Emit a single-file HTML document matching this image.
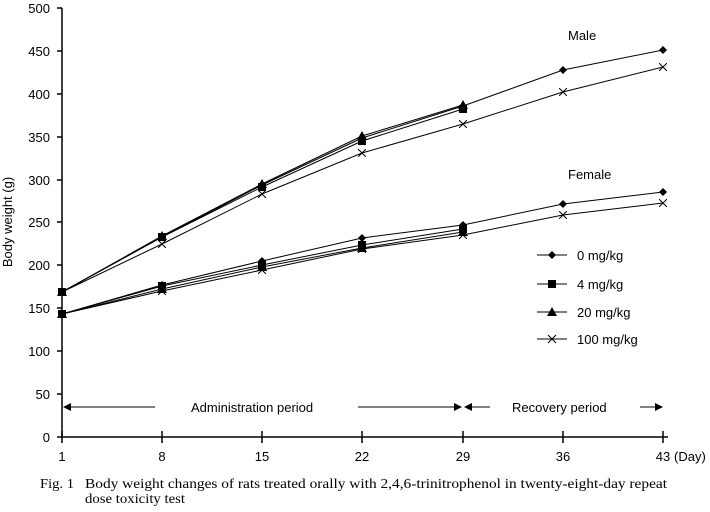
<!DOCTYPE html><html><head><style>body{margin:0;background:#fff}svg text{font-family:"Liberation Sans",sans-serif;font-size:13px;fill:#000}.c{font-family:"Liberation Serif",serif;font-size:13.5px}</style></head><body>
<svg width="710" height="507" xmlns="http://www.w3.org/2000/svg">
<defs>
<marker id="d" viewBox="-4 -4 8 8" markerWidth="8" markerHeight="8" markerUnits="userSpaceOnUse"><path d="M0-4L4 0 0 4-4 0Z"/></marker>
<marker id="s" viewBox="-4 -4 8 8" markerWidth="8" markerHeight="8" markerUnits="userSpaceOnUse"><rect x="-4" y="-4" width="8" height="8"/></marker>
<marker id="t" viewBox="-5 -5 10 10" markerWidth="10" markerHeight="10" markerUnits="userSpaceOnUse"><path d="M0-5L5 4-5 4Z"/></marker>
<marker id="x" viewBox="-4 -4 8 8" markerWidth="8" markerHeight="8" markerUnits="userSpaceOnUse"><path d="M-4-4L4 4M-4 4L4-4" stroke="#000" stroke-width="1"/></marker>
</defs>
<g stroke="#000" stroke-width="1.5" fill="none">
<line x1="62" y1="8" x2="62" y2="438"/><line x1="62" y1="437" x2="668" y2="437"/>
<path d="M57 8h5M57 51h5M57 94h5M57 137h5M57 180h5M57 222h5M57 265h5M57 308h5M57 351h5M57 394h5M57 437h5"/>
<path d="M62 431v12M162 431v12M262 431v12M362 431v12M463 431v12M563 431v12M663 431v12"/>
</g>
<g text-anchor="end"><text x="50" y="13">500</text><text x="50" y="56">450</text><text x="50" y="99">400</text><text x="50" y="142">350</text><text x="50" y="185">300</text><text x="50" y="227">250</text><text x="50" y="270">200</text><text x="50" y="313">150</text><text x="50" y="356">100</text><text x="50" y="399">50</text><text x="50" y="442">0</text></g>
<g text-anchor="middle"><text x="62" y="461">1</text><text x="162" y="461">8</text><text x="262" y="461">15</text><text x="362" y="461">22</text><text x="463" y="461">29</text><text x="563" y="461">36</text><text x="663" y="461">43</text></g>
<text x="674" y="461">(Day)</text>
<text transform="translate(12 222) rotate(-90)" text-anchor="middle">Body weight (g)</text>
<g fill="none" stroke="#000" stroke-width="1">
<polyline marker-start="url(#d)" marker-mid="url(#d)" marker-end="url(#d)" points="62,292 162,237 262,185 362,138 463,106 563,70 663,50"/>
<polyline marker-start="url(#s)" marker-mid="url(#s)" marker-end="url(#s)" points="62,292 162,237 262,187 362,141 463,109"/>
<polyline marker-start="url(#t)" marker-mid="url(#t)" marker-end="url(#t)" points="62,292 162,236 262,184 362,136 463,105"/>
<polyline marker-start="url(#x)" marker-mid="url(#x)" marker-end="url(#x)" points="62,292 162,244 262,194 362,153 463,124 563,92 663,67"/>
<polyline marker-start="url(#d)" marker-mid="url(#d)" marker-end="url(#d)" points="62,314 162,285 262,261 362,238 463,225 563,204 663,192"/>
<polyline marker-start="url(#s)" marker-mid="url(#s)" marker-end="url(#s)" points="62,314 162,286 262,265 362,245 463,229"/>
<polyline marker-start="url(#t)" marker-mid="url(#t)" marker-end="url(#t)" points="62,314 162,289 262,267 362,248 463,232"/>
<polyline marker-start="url(#x)" marker-mid="url(#x)" marker-end="url(#x)" points="62,314 162,291 262,270 362,249 463,235 563,215 663,203"/>
</g>
<g stroke="#000" stroke-width="1">
<line x1="537" y1="255" x2="567" y2="255"/><line x1="537" y1="284" x2="567" y2="284"/><line x1="537" y1="312" x2="567" y2="312"/><line x1="537" y1="339" x2="567" y2="339"/>
</g>
<path d="M552 251l4 4-4 4-4-4z"/><rect x="548" y="280" width="8" height="8"/><path d="M552 307l5 9h-10z"/><path d="M548 335l8 8M548 343l8-8" stroke="#000"/>
<text x="577" y="260">0 mg/kg</text><text x="577" y="289">4 mg/kg</text><text x="577" y="317">20 mg/kg</text><text x="577" y="344">100 mg/kg</text>
<text x="568" y="40">Male</text><text x="568" y="179">Female</text>
<g stroke="#000" stroke-width="1"><line x1="66" y1="407" x2="155" y2="407"/><line x1="358" y1="407" x2="458" y2="407"/><line x1="468" y1="407" x2="490" y2="407"/><line x1="640" y1="407" x2="658" y2="407"/></g>
<path d="M63 407l8-4v8zM462 407l-8-4v8zM464 407l8-4v8zM663 407l-8-4v8z"/>
<text x="191" y="412">Administration period</text><text x="512" y="412">Recovery period</text>
<text class="c" x="40" y="488" textLength="34" lengthAdjust="spacingAndGlyphs">Fig. 1</text><text class="c" x="85" y="488" textLength="582" lengthAdjust="spacingAndGlyphs">Body weight changes of rats treated orally with 2,4,6-trinitrophenol in twenty-eight-day repeat</text><text class="c" x="85" y="503" textLength="100" lengthAdjust="spacingAndGlyphs">dose toxicity test</text>
</svg></body></html>
